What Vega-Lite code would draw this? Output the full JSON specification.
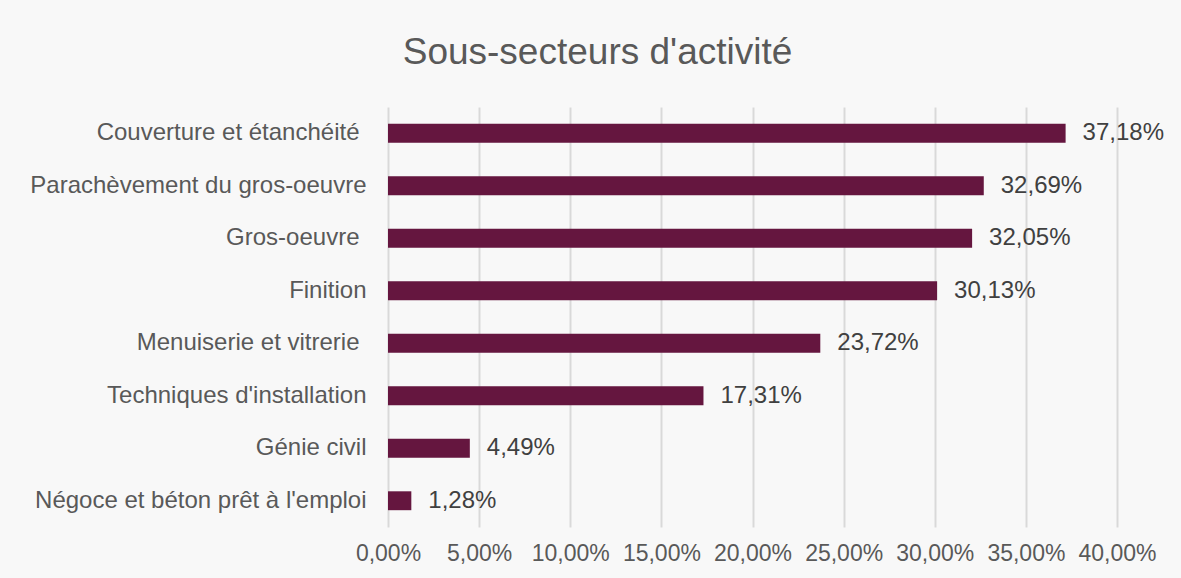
{
  "$schema": "https://vega.github.io/schema/vega-lite/v6.json",
  "width": 729,
  "height": 420,
  "autosize": {"type": "none"},
  "padding": {"left": 388, "top": 107, "right": 64, "bottom": 51},
  "background": "#f8f8f8",
  "config": {
    "locale": {"number": {"decimal": ",", "thousands": " ", "grouping": [3], "currency": ["", " €"]}},
    "font": "Liberation Sans",
    "view": {"stroke": null}
  },
  "title": {
    "text": "Sous-secteurs d'activité",
    "fontSize": 37,
    "font": "Liberation Sans",
    "fontWeight": "normal",
    "color": "#595959",
    "anchor": "middle",
    "dx": -155,
    "offset": 35
  },
  "data": {
    "values": [
      {"secteur": "Couverture et étanchéité ", "part": 0.3718},
      {"secteur": "Parachèvement du gros-oeuvre", "part": 0.3269},
      {"secteur": "Gros-oeuvre ", "part": 0.3205},
      {"secteur": "Finition", "part": 0.3013},
      {"secteur": "Menuiserie et vitrerie ", "part": 0.2372},
      {"secteur": "Techniques d'installation", "part": 0.1731},
      {"secteur": "Génie civil", "part": 0.0449},
      {"secteur": "Négoce et béton prêt à l'emploi", "part": 0.0128}
    ]
  },
  "encoding": {
    "y": {
      "field": "secteur",
      "type": "nominal",
      "sort": null,
      "scale": {"paddingInner": 0.64, "paddingOuter": 0.32},
      "axis": {
        "title": null,
        "domain": false,
        "ticks": false,
        "labelFontSize": 24,
        "labelColor": "#595959",
        "labelPadding": {"condition": {"test": "substring(datum.value, length(datum.value) - 1) == ' '", "value": 29}, "value": 22},
        "labelLimit": 400
      }
    },
    "x": {
      "field": "part",
      "type": "quantitative",
      "scale": {"domain": [0, 0.4], "nice": false},
      "axis": {
        "title": null,
        "format": ".2%",
        "values": [0, 0.05, 0.1, 0.15, 0.2, 0.25, 0.3, 0.35, 0.4],
        "domain": false,
        "ticks": false,
        "grid": true,
        "gridColor": "#d9d9d9",
        "gridWidth": 2,
        "labelFontSize": 23,
        "labelColor": "#595959",
        "labelPadding": 15,
        "labelFlush": false
      }
    }
  },
  "layer": [
    {"mark": {"type": "bar", "color": "#65163f"}},
    {
      "mark": {"type": "text", "align": "left", "dx": 17, "fontSize": 24, "color": "#404040"},
      "encoding": {"text": {"field": "part", "type": "quantitative", "format": ".2%"}}
    }
  ]
}
